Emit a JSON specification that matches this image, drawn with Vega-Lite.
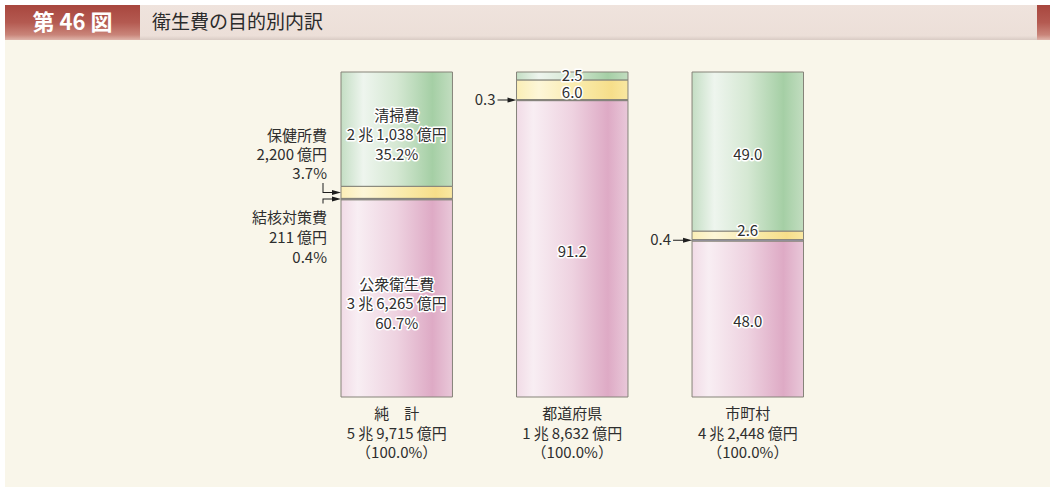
{
  "$schema": "https://vega.github.io/schema/vega-lite/v6.json",
  "background": "#ffffff",
  "padding": {"left": 5, "top": 5, "right": 9, "bottom": 2},
  "spacing": 0,
  "config": {"view": {"stroke": null}, "font": "Noto Sans CJK JP", "concat": {"spacing": 0}},
  "vconcat": [
    {
      "spacing": 0,
      "hconcat": [
        {
          "width": 135, "height": 35,
          "data": {"values": [{"t": "第 46 図"}]},
          "layer": [
            {"mark": {"type": "rect", "fill": {"gradient": "linear", "x1": 0, "y1": 0, "x2": 0, "y2": 1, "stops": [{"offset": 0, "color": "#a8463e"}, {"offset": 0.5, "color": "#b45a51"}, {"offset": 0.85, "color": "#c98479"}, {"offset": 1, "color": "#dfb5ab"}]}}, "encoding": {}},
            {"mark": {"type": "text", "fill": "#ffffff", "fontSize": 22, "fontWeight": "bold", "baseline": "middle"}, "encoding": {"text": {"field": "t"}}}
          ]
        },
        {
          "width": 897, "height": 35,
          "data": {"values": [{"t": "衛生費の目的別内訳"}]},
          "layer": [
            {"mark": {"type": "rect", "fill": {"gradient": "linear", "x1": 0, "y1": 0, "x2": 0, "y2": 1, "stops": [{"offset": 0, "color": "#efe3dd"}, {"offset": 0.88, "color": "#ecdfd8"}, {"offset": 1, "color": "#d9cbc4"}]}}, "encoding": {}},
            {"mark": {"type": "text", "fill": "#2b2b2b", "fontSize": 19, "align": "left", "baseline": "middle", "dx": -436.5}, "encoding": {"text": {"field": "t"}}}
          ]
        },
        {
          "width": 13, "height": 35,
          "data": {"values": [{"t": ""}]},
          "layer": [
            {"mark": {"type": "rect", "fill": {"gradient": "linear", "x1": 0, "y1": 0, "x2": 0, "y2": 1, "stops": [{"offset": 0, "color": "#a8463e"}, {"offset": 0.5, "color": "#b45a51"}, {"offset": 0.85, "color": "#c98479"}, {"offset": 1, "color": "#dfb5ab"}]}}, "encoding": {}}
          ]
        }
      ]
    },
    {
      "width": 1045, "height": 447,
      "view": {"fill": "#f9f6ea", "stroke": null},
      "data": {"values": [
        {"region": "純計", "cat": "公衆衛生費", "value": 60.7, "order": 1, "label": "公衆衛生費\n3\u2009兆\u20096,265\u2009億円\n60.7%", "total": "純\u3000計\n5\u2009兆\u20099,715\u2009億円\n（100.0%）"},
        {"region": "純計", "cat": "結核対策費", "value": 0.4, "order": 2, "label": "結核対策費\n211\u2009億円\n0.4%"},
        {"region": "純計", "cat": "保健所費", "value": 3.7, "order": 3, "label": "保健所費\n2,200\u2009億円\n3.7%"},
        {"region": "純計", "cat": "清掃費", "value": 35.2, "order": 4, "label": "清掃費\n2\u2009兆\u20091,038\u2009億円\n35.2%"},
        {"region": "都道府県", "cat": "公衆衛生費", "value": 91.2, "order": 1, "label": "91.2", "total": "都道府県\n1\u2009兆\u20098,632\u2009億円\n（100.0%）"},
        {"region": "都道府県", "cat": "結核対策費", "value": 0.3, "order": 2, "label": "0.3"},
        {"region": "都道府県", "cat": "保健所費", "value": 6.0, "order": 3, "label": "6.0"},
        {"region": "都道府県", "cat": "清掃費", "value": 2.5, "order": 4, "label": "2.5"},
        {"region": "市町村", "cat": "公衆衛生費", "value": 48.0, "order": 1, "label": "48.0", "total": "市町村\n4\u2009兆\u20092,448\u2009億円\n（100.0%）"},
        {"region": "市町村", "cat": "結核対策費", "value": 0.4, "order": 2, "label": "0.4"},
        {"region": "市町村", "cat": "保健所費", "value": 2.6, "order": 3, "label": "2.6"},
        {"region": "市町村", "cat": "清掃費", "value": 49.0, "order": 4, "label": "49.0"}
      ]},
      "transform": [
        {"stack": "value", "groupby": ["region"], "sort": [{"field": "order", "order": "ascending"}], "as": ["y0", "y1"]},
        {"calculate": "(datum.y0 + datum.y1) / 2", "as": "mid"}
      ],
      "encoding": {
        "x": {"field": "region", "type": "nominal", "axis": null, "scale": {"type": "band", "domain": ["純計", "都道府県", "市町村"], "range": [336, 798.5], "paddingInner": 0.365, "paddingOuter": 0}}
      },
      "layer": [
        {
          "transform": [{"filter": "datum.cat === '公衆衛生費'"}],
          "mark": {"type": "bar", "fill": {"gradient": "linear", "x1": 0, "y1": 0, "x2": 1, "y2": 0, "stops": [{"offset": 0, "color": "#f1dbe6"}, {"offset": 0.15, "color": "#f8eef3"}, {"offset": 0.5, "color": "#eed2e0"}, {"offset": 0.82, "color": "#deaac5"}, {"offset": 1, "color": "#e9c8d9"}]}, "stroke": "#858379", "strokeWidth": 1},
          "encoding": {"y": {"field": "y1", "type": "quantitative", "axis": null, "scale": {"domain": [0, 100], "range": [357, 32], "nice": false}}, "y2": {"field": "y0"}}
        },
        {
          "transform": [{"filter": "datum.cat === '清掃費'"}],
          "mark": {"type": "bar", "fill": {"gradient": "linear", "x1": 0, "y1": 0, "x2": 1, "y2": 0, "stops": [{"offset": 0, "color": "#c4dec4"}, {"offset": 0.2, "color": "#eef5ee"}, {"offset": 0.5, "color": "#d5e8d3"}, {"offset": 0.82, "color": "#a5cfa5"}, {"offset": 1, "color": "#c2ddc0"}]}, "stroke": "#858379", "strokeWidth": 1},
          "encoding": {"y": {"field": "y1", "type": "quantitative"}, "y2": {"field": "y0"}}
        },
        {
          "transform": [{"filter": "datum.cat === '保健所費'"}],
          "mark": {"type": "bar", "fill": {"gradient": "linear", "x1": 0, "y1": 0, "x2": 1, "y2": 0, "stops": [{"offset": 0, "color": "#fbeeb6"}, {"offset": 0.2, "color": "#fdf6d8"}, {"offset": 0.6, "color": "#f9e9a6"}, {"offset": 0.85, "color": "#f6de8a"}, {"offset": 1, "color": "#f9e8a2"}]}, "stroke": "#858379", "strokeWidth": 1},
          "encoding": {"y": {"field": "y1", "type": "quantitative"}, "y2": {"field": "y0"}}
        },
        {
          "transform": [{"filter": "datum.cat === '結核対策費'"}],
          "mark": {"type": "bar", "fill": "#a3a3c8", "stroke": "#858379", "strokeWidth": 1},
          "encoding": {"y": {"field": "y1", "type": "quantitative"}, "y2": {"field": "y0"}}
        },
        {
          "transform": [{"filter": "datum.region === '純計' && (datum.cat === '清掃費' || datum.cat === '公衆衛生費')"}],
          "mark": {"type": "text", "fill": "#ffffff", "stroke": "#ffffff", "strokeWidth": 3, "strokeJoin": "round", "fontSize": 15, "lineHeight": 19.5, "lineBreak": "\n", "baseline": "middle", "dy": -13.5},
          "encoding": {"y": {"field": "mid", "type": "quantitative"}, "text": {"field": "label"}}
        },
        {
          "transform": [{"filter": "datum.region === '純計' && (datum.cat === '清掃費' || datum.cat === '公衆衛生費')"}],
          "mark": {"type": "text", "fill": "#2e2e2e", "fontSize": 15, "lineHeight": 19.5, "lineBreak": "\n", "baseline": "middle", "dy": -13.5},
          "encoding": {"y": {"field": "mid", "type": "quantitative"}, "text": {"field": "label"}}
        },
        {
          "transform": [{"filter": "datum.region !== '純計' && datum.cat !== '結核対策費' && !(datum.region === '市町村' && datum.cat === '保健所費') && !(datum.region === '都道府県' && datum.cat === '清掃費')"}],
          "mark": {"type": "text", "fill": "#ffffff", "stroke": "#ffffff", "strokeWidth": 3, "strokeJoin": "round", "fontSize": 15, "baseline": "middle", "dy": 3},
          "encoding": {"y": {"field": "mid", "type": "quantitative"}, "text": {"field": "label"}}
        },
        {
          "transform": [{"filter": "datum.region !== '純計' && datum.cat !== '結核対策費' && !(datum.region === '市町村' && datum.cat === '保健所費') && !(datum.region === '都道府県' && datum.cat === '清掃費')"}],
          "mark": {"type": "text", "fill": "#2e2e2e", "fontSize": 15, "baseline": "middle", "dy": 3},
          "encoding": {"y": {"field": "mid", "type": "quantitative"}, "text": {"field": "label"}}
        },
        {
          "transform": [{"filter": "datum.region === '都道府県' && datum.cat === '清掃費'"}],
          "mark": {"type": "text", "fill": "#ffffff", "stroke": "#ffffff", "strokeWidth": 3, "strokeJoin": "round", "fontSize": 15, "baseline": "middle", "dy": -0.5},
          "encoding": {"y": {"field": "mid", "type": "quantitative"}, "text": {"field": "label"}}
        },
        {
          "transform": [{"filter": "datum.region === '都道府県' && datum.cat === '清掃費'"}],
          "mark": {"type": "text", "fill": "#2e2e2e", "fontSize": 15, "baseline": "middle", "dy": -0.5},
          "encoding": {"y": {"field": "mid", "type": "quantitative"}, "text": {"field": "label"}}
        },
        {
          "transform": [{"filter": "datum.region === '市町村' && datum.cat === '保健所費'"}],
          "mark": {"type": "text", "fill": "#ffffff", "stroke": "#ffffff", "strokeWidth": 3, "strokeJoin": "round", "fontSize": 15, "baseline": "middle", "dy": -4},
          "encoding": {"y": {"field": "mid", "type": "quantitative"}, "text": {"field": "label"}}
        },
        {
          "transform": [{"filter": "datum.region === '市町村' && datum.cat === '保健所費'"}],
          "mark": {"type": "text", "fill": "#2e2e2e", "fontSize": 15, "baseline": "middle", "dy": -4},
          "encoding": {"y": {"field": "mid", "type": "quantitative"}, "text": {"field": "label"}}
        },
        {
          "transform": [{"filter": "datum.region === '純計' && datum.cat === '保健所費'"}],
          "mark": {"type": "text", "fill": "#2e2e2e", "fontSize": 15, "lineHeight": 19, "lineBreak": "\n", "align": "right", "baseline": "middle", "dx": -14, "dy": -56.5},
          "encoding": {"x": {"field": "region", "type": "nominal", "bandPosition": 0}, "y": {"field": "mid", "type": "quantitative"}, "text": {"field": "label"}}
        },
        {
          "transform": [{"filter": "datum.region === '純計' && datum.cat === '結核対策費'"}],
          "mark": {"type": "text", "fill": "#2e2e2e", "fontSize": 15, "lineHeight": 20, "lineBreak": "\n", "align": "right", "baseline": "middle", "dx": -14, "dy": 18.5},
          "encoding": {"x": {"field": "region", "type": "nominal", "bandPosition": 0}, "y": {"field": "mid", "type": "quantitative"}, "text": {"field": "label"}}
        },
        {
          "transform": [{"filter": "datum.region !== '純計' && datum.cat === '結核対策費'"}],
          "mark": {"type": "text", "fill": "#2e2e2e", "fontSize": 15, "align": "right", "baseline": "middle", "dx": -21},
          "encoding": {"x": {"field": "region", "type": "nominal", "bandPosition": 0}, "y": {"field": "mid", "type": "quantitative"}, "text": {"field": "label"}}
        },
        {
          "transform": [{"filter": "datum.region === '純計' && datum.cat === '保健所費'"}],
          "mark": {"type": "point", "shape": "M-18.5,-9.5H-17.5V0.5H-18.5Z M-18,-0.5H-8V0.5H-18Z M-9,-2.5L0,0L-9,2.5Z", "size": 4, "filled": true, "color": "#1e1e1e", "opacity": 1, "strokeWidth": 0},
          "encoding": {"x": {"field": "region", "type": "nominal", "bandPosition": 0}, "y": {"field": "mid", "type": "quantitative"}}
        },
        {
          "transform": [{"filter": "datum.region === '純計' && datum.cat === '結核対策費'"}],
          "mark": {"type": "point", "shape": "M-18.5,-0.5H-17.5V4.5H-18.5Z M-18,-0.5H-8V0.5H-18Z M-9,-2.5L0,0L-9,2.5Z", "size": 4, "filled": true, "color": "#1e1e1e", "opacity": 1, "strokeWidth": 0},
          "encoding": {"x": {"field": "region", "type": "nominal", "bandPosition": 0}, "y": {"field": "mid", "type": "quantitative"}}
        },
        {
          "transform": [{"filter": "datum.region !== '純計' && datum.cat === '結核対策費'"}],
          "mark": {"type": "point", "shape": "M-19,-0.5H-8V0.5H-19Z M-9,-2.5L0,0L-9,2.5Z", "size": 4, "filled": true, "color": "#1e1e1e", "opacity": 1, "strokeWidth": 0},
          "encoding": {"x": {"field": "region", "type": "nominal", "bandPosition": 0}, "y": {"field": "mid", "type": "quantitative"}}
        },
        {
          "transform": [{"filter": "datum.order === 1"}],
          "mark": {"type": "text", "fill": "#2e2e2e", "fontSize": 15, "lineHeight": 19.5, "lineBreak": "\n", "baseline": "top", "dy": 10},
          "encoding": {"y": {"datum": 0, "type": "quantitative"}, "text": {"field": "total"}}
        }
      ]
    }
  ]
}
